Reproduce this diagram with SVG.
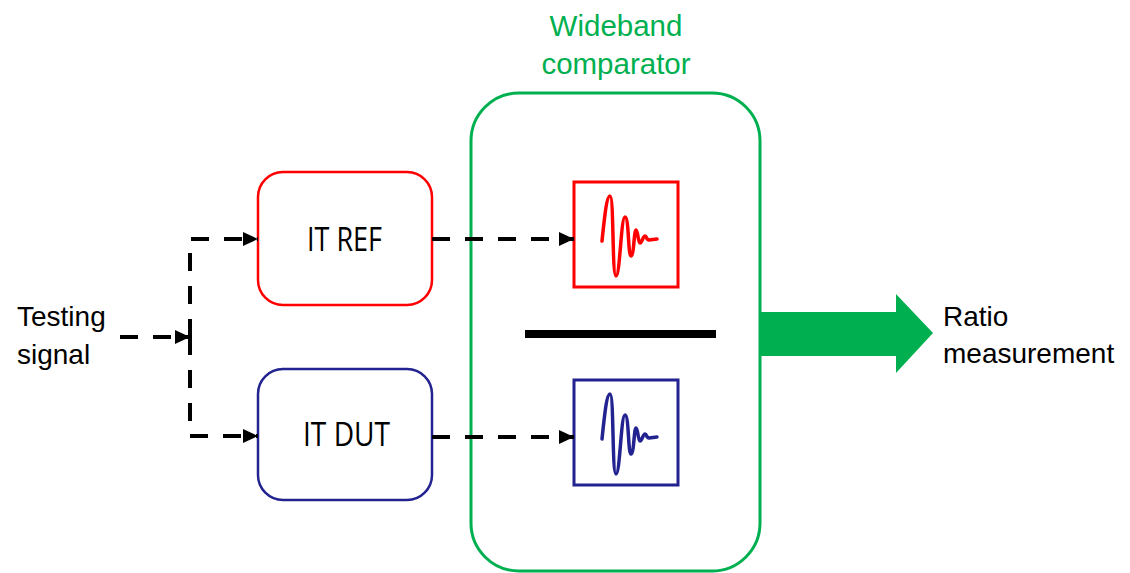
<svg xmlns="http://www.w3.org/2000/svg" width="1130" height="573" viewBox="0 0 1130 573">
  <style>
    text { font-family: "Liberation Sans", Arial, sans-serif; font-size: 28px; fill: #000; }
    .green-text { fill: #00B050; font-size: 29.5px; }
    .label { font-family: "Open Sans", "Liberation Sans", sans-serif; font-size: 33px; }
    .flow { fill: none; stroke: #000; stroke-width: 4; stroke-dasharray: 18 15; }
    .block { fill: #fff; stroke-width: 2.5; }
    .scope { fill: #fff; stroke-width: 3; }
    .wave { fill: none; stroke-width: 3.5; stroke-linecap: round; stroke-linejoin: round; }
  </style>
  <defs>
    <marker id="head" viewBox="0 0 15 14" refX="15" refY="7" markerWidth="15" markerHeight="14" markerUnits="userSpaceOnUse" orient="auto">
      <path d="M0,0 L15,7 L0,14 Z" fill="#000"/>
    </marker>
    <!-- damped oscillation trace, coordinates relative to the scope frame -->
    <path id="trace" d="M28,59 C31,30 33,14 36,14 C40,14 38,94 42,94 C46,94 47,35 51,35 C55,35 54,74 57,74 C60,74 60,48 62,48 C64,48 64,61 66,61 C68,61 69,54 71,54 C73,54 72,58 75,58 L83,57"/>
  </defs>

  <!-- comparator container -->
  <g id="comparator">
    <rect x="471" y="93" width="289" height="478" rx="48" fill="#fff" stroke="#00B050" stroke-width="3"/>
    <text class="green-text" x="616" y="36" text-anchor="middle">Wideband</text>
    <text class="green-text" x="616" y="74" text-anchor="middle">comparator</text>
    <rect id="divider" x="525" y="330" width="191" height="8" fill="#000"/>
  </g>

  <g id="testing-signal">
    <text x="17" y="326">Testing</text>
    <text x="17" y="364">signal</text>
  </g>

  <g id="it-ref">
    <rect class="block" x="258" y="172" width="174" height="133" rx="25" stroke="#FF0000"/>
    <text class="label" x="307" y="251" textLength="75" lengthAdjust="spacingAndGlyphs">IT REF</text>
  </g>

  <g id="it-dut">
    <rect class="block" x="258" y="369" width="174" height="131" rx="25" stroke="#222290"/>
    <text class="label" x="303" y="446" textLength="87" lengthAdjust="spacingAndGlyphs">IT DUT</text>
  </g>

  <g id="scope-ref">
    <rect class="scope" x="574" y="182" width="104" height="105" stroke="#FF0000"/>
    <use href="#trace" x="574" y="182" class="wave" stroke="#FF0000"/>
  </g>

  <g id="scope-dut">
    <rect class="scope" x="574" y="380" width="104" height="105" stroke="#222290"/>
    <use href="#trace" x="574" y="380" class="wave" stroke="#222290"/>
  </g>

  <g id="ratio">
    <path d="M760,312 L896,312 L896,294 L933,333 L896,373 L896,356 L760,356 Z" fill="#00B050"/>
    <text x="943" y="326">Ratio</text>
    <text x="943" y="363">measurement</text>
  </g>

  <!-- dashed signal connectors -->
  <g id="connectors">
    <path class="flow" d="M120,337 H190" marker-end="url(#head)"/>
    <path class="flow" d="M190,337 V239 H258" marker-end="url(#head)"/>
    <path class="flow" d="M190,337 V436 H258" marker-end="url(#head)"/>
    <path class="flow" d="M432,239 H574" marker-end="url(#head)"/>
    <path class="flow" d="M432,437 H574" marker-end="url(#head)"/>
  </g>
</svg>
